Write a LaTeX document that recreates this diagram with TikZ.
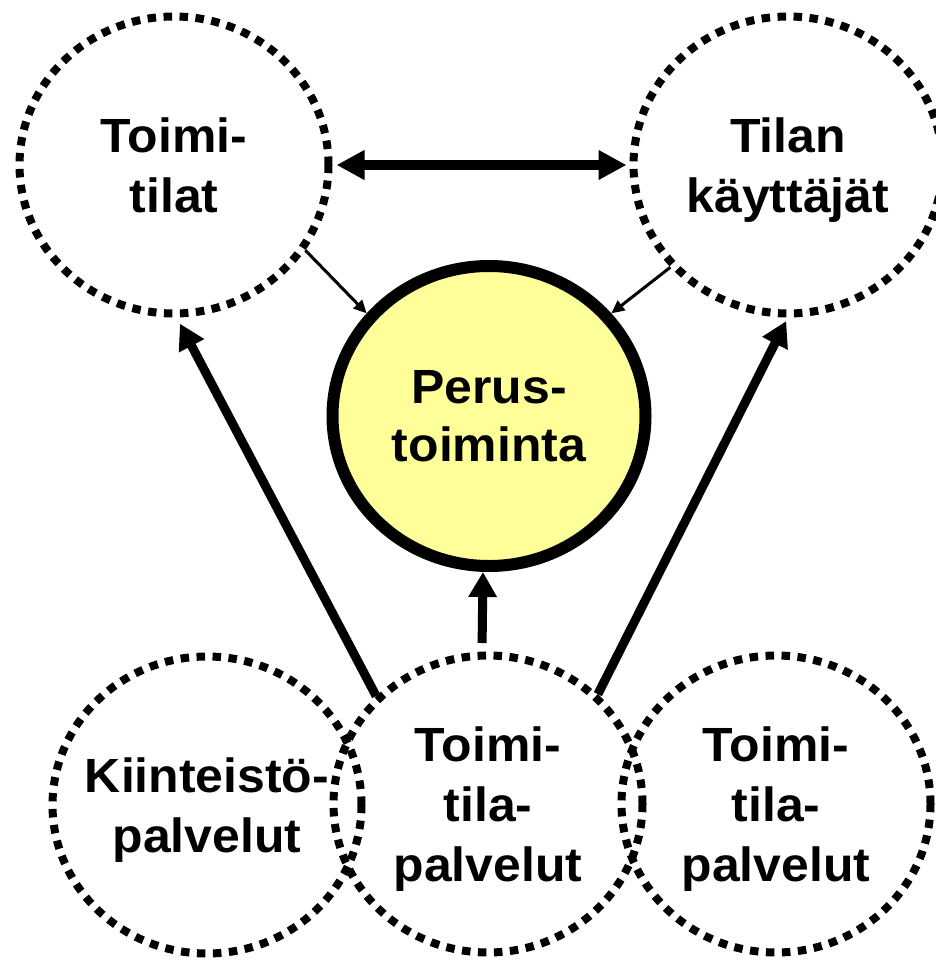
\documentclass[tikz,border=0pt]{standalone}
\usepackage{fontspec}
\setmainfont{Liberation Sans}[FakeStretch=1.04]
\usetikzlibrary{shapes.geometric,arrows.meta}
\definecolor{coreyellow}{HTML}{FFFF99}
\begin{document}
\begin{tikzpicture}[x=1pt,y=-1pt,
  label text/.style={align=center, text depth=0pt, inner sep=0pt,
    font=\bfseries\fontsize{48}{60}\selectfont},
  ring/.style={ellipse, label text, draw=black, line width=8pt,
    dash pattern=on 8.5pt off 7.5pt,
    minimum width=309pt, minimum height=297pt},
  core/.style={ellipse, label text, draw=black, line width=12pt, fill=coreyellow,
    font=\bfseries\fontsize{48}{58}\selectfont,
    minimum width=313pt, minimum height=300pt},
  bigarrow/.style={line width=9pt, -{Triangle[length=25pt,width=27pt]}},
  twoway/.style={line width=10pt,
    {Triangle[length=28pt,width=28pt]}-{Triangle[length=28pt,width=28pt]}},
  thinarrow/.style={line width=3pt, -{Triangle[length=13pt,width=12pt]}}
]
\fill[white] (0,0) rectangle (935,961);
\useasboundingbox (0,0) rectangle (935,961);

\node[ring] (tl) at (174,165) {Toimi-\\tilat};
\node[ring] (tr) at (788,165) {Tilan\\käyttäjät};
\node[core] (c)  at (489,416) {Perus-\\toiminta};
\node[ring, inner xsep=-35pt] (kp) at (207,805) {Kiinteistö-\\palvelut};
\node[ring] (bm) at (488,804) {Toimi-\\tila-\\palvelut};
\node[ring] (br) at (776,804) {Toimi-\\tila-\\palvelut};

\draw[twoway, shorten <=4pt, shorten >=3pt] (tl) -- (tr);
\draw[thinarrow] (tl.-33.5) -- (c.140);
\draw[thinarrow] (tr.-139.7) -- (c.40.4);
\draw[bigarrow, shorten >=7pt] (bm.136) -- (tl.-89);
\draw[bigarrow, shorten >=4pt] (bm.45) -- (tr.-90);
\draw[bigarrow, shorten <=8.5pt] ([xshift=-6pt]bm.north) -- ([xshift=-6pt]c.south);
\end{tikzpicture}
\end{document}
